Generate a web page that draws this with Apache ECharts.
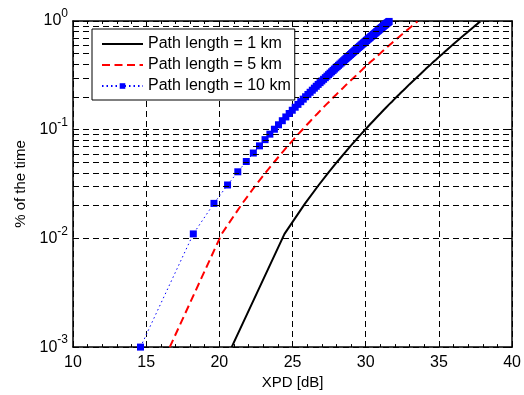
<!DOCTYPE html>
<html>
<head>
<meta charset="utf-8">
<script src="https://cdn.jsdelivr.net/npm/echarts@6/dist/echarts.min.js"></script>
<style>html,body{margin:0;padding:0;background:#fff}#c{width:524px;height:395px}</style>
</head>
<body>
<div id="c"></div>
<script>
// percentage of time (y values)
const pct = [0.001,0.011,0.021,0.031,0.041,0.051,0.061,0.071,0.081,0.091,
0.101,0.111,0.121,0.131,0.141,0.151,0.161,0.171,0.181,0.191,
0.201,0.211,0.221,0.231,0.241,0.251,0.261,0.271,0.281,0.291,
0.301,0.311,0.321,0.331,0.341,0.351,0.361,0.371,0.381,0.391,
0.401,0.411,0.421,0.431,0.441,0.451,0.461,0.471,0.481,0.491,
0.501,0.511,0.521,0.531,0.541,0.551,0.561,0.571,0.581,0.591,
0.601,0.611,0.621,0.631,0.641,0.651,0.661,0.671,0.681,0.691,
0.701,0.711,0.721,0.731,0.741,0.751,0.761,0.771,0.781,0.791,
0.801,0.811,0.821,0.831,0.841,0.851,0.861,0.871,0.881,0.891,
0.901,0.911,0.921,0.931,0.941,0.951,0.961,0.971,0.981,0.991];

// XPD [dB] for each path length
const xpd1km = [20.84,24.45,25.86,26.79,27.49,28.07,28.55,28.97,29.35,29.68,
29.99,30.27,30.53,30.77,31.00,31.21,31.41,31.60,31.79,31.96,
32.12,32.28,32.43,32.58,32.72,32.85,32.98,33.11,33.23,33.35,
33.47,33.58,33.69,33.79,33.90,34.00,34.09,34.19,34.28,34.37,
34.46,34.55,34.63,34.72,34.80,34.88,34.96,35.04,35.11,35.19,
35.26,35.33,35.40,35.47,35.54,35.61,35.67,35.73,35.80,35.86,
35.92,35.98,36.05,36.10,36.16,36.22,36.28,36.33,36.39,36.44,
36.50,36.55,36.60,36.66,36.71,36.76,36.81,36.86,36.91,36.96,
37.00,37.05,37.10,37.14,37.19,37.23,37.28,37.32,37.37,37.41,
37.45,37.50,37.54,37.58,37.62,37.66,37.70,37.75,37.79,37.83];

const xpd5km = [16.61,20.16,21.57,22.50,23.20,23.78,24.26,24.68,25.06,25.39,
25.70,25.98,26.24,26.48,26.71,26.92,27.12,27.31,27.50,27.67,
27.83,27.99,28.14,28.29,28.43,28.56,28.69,28.82,28.94,29.06,
29.18,29.29,29.40,29.50,29.61,29.71,29.80,29.90,29.99,30.08,
30.17,30.26,30.34,30.43,30.51,30.59,30.67,30.75,30.82,30.90,
30.97,31.04,31.11,31.18,31.25,31.32,31.38,31.44,31.51,31.57,
31.63,31.69,31.76,31.81,31.87,31.93,31.99,32.04,32.10,32.15,
32.21,32.26,32.31,32.37,32.42,32.47,32.52,32.57,32.62,32.67,
32.71,32.76,32.81,32.85,32.90,32.94,32.99,33.03,33.08,33.12,
33.16,33.21,33.25,33.29,33.33,33.37,33.41,33.46,33.50,33.54];

const xpd10km = [14.61,18.22,19.63,20.56,21.26,21.84,22.32,22.74,23.12,23.45,
23.76,24.04,24.30,24.54,24.77,24.98,25.18,25.37,25.56,25.73,
25.89,26.05,26.20,26.35,26.49,26.62,26.75,26.88,27.00,27.12,
27.24,27.35,27.46,27.56,27.67,27.77,27.86,27.96,28.05,28.14,
28.23,28.32,28.40,28.49,28.57,28.65,28.73,28.81,28.88,28.96,
29.03,29.10,29.17,29.24,29.31,29.38,29.44,29.50,29.57,29.63,
29.69,29.75,29.82,29.87,29.93,29.99,30.05,30.10,30.16,30.21,
30.27,30.32,30.37,30.43,30.48,30.53,30.58,30.63,30.68,30.73,
30.77,30.82,30.87,30.91,30.96,31.00,31.05,31.09,31.14,31.18,
31.22,31.27,31.31,31.35,31.39,31.43,31.47,31.52,31.56,31.60];

const seriesNames = ['Path length = 1 km','Path length = 5 km','Path length = 10 km'];
const xTicks = [10,15,20,25,30,35,40];
const yMinorGrid = [0.002,0.003,0.004,0.005,0.006,0.007,0.008,0.009,
0.02,0.03,0.04,0.05,0.06,0.07,0.08,0.09,
0.2,0.3,0.4,0.5,0.6,0.7,0.8,0.9];

const FONT = '"Liberation Sans", Arial, Helvetica, sans-serif';
const pair = xs => xs.map((x, i) => [x, pct[i]]);
const dashGrid = {color:'#000', width:1, type:[6,4]};

const chart = echarts.init(document.getElementById('c'), null, {renderer:'canvas'});
chart.setOption({
  animation:false,
  backgroundColor:'#fff',
  textStyle:{fontFamily:FONT},
  grid:{left:73, right:11, top:21, bottom:46, containLabel:false},
  legend:{
    orient:'vertical', left:92, top:29, z:20,
    backgroundColor:'#fff', borderColor:'#000', borderWidth:1,
    padding:[7,4,6,9], itemWidth:41, itemHeight:7, itemGap:5,
    textStyle:{fontSize:16, color:'#000', fontFamily:FONT, lineHeight:16},
    data:[
      {name:seriesNames[0], itemStyle:{opacity:0}},
      {name:seriesNames[1], itemStyle:{opacity:0}},
      {name:seriesNames[2]}
    ]
  },
  xAxis:[{
    type:'value', min:xTicks[0], max:xTicks[xTicks.length-1], interval:5,
    name:'XPD [dB]', nameLocation:'middle', nameGap:27,
    nameTextStyle:{fontSize:15, color:'#000', fontFamily:FONT},
    axisLine:{show:true, onZero:false, lineStyle:{color:'#000', width:1.5}},
    axisTick:{show:true, inside:true, length:5, lineStyle:{color:'#000'}},
    minorTick:{show:true, splitNumber:5, length:3, lineStyle:{color:'#000'}},
    axisLabel:{fontSize:16, color:'#000', margin:7, fontFamily:FONT},
    splitLine:{show:true, lineStyle:dashGrid}
  },{
    type:'value', position:'top', min:10, max:40, interval:5,
    axisLine:{show:true, onZero:false, lineStyle:{color:'#000', width:1.5}},
    axisTick:{show:true, inside:true, length:5, lineStyle:{color:'#000'}},
    minorTick:{show:true, splitNumber:5, length:3, lineStyle:{color:'#000'}},
    axisLabel:{show:false}, splitLine:{show:false}
  }],
  yAxis:[{
    type:'log', logBase:10, min:0.001, max:1,
    name:'% of the time', nameLocation:'middle', nameGap:31, nameRotate:90,
    nameTextStyle:{fontSize:15, color:'#000', fontFamily:FONT},
    axisLine:{show:true, onZero:false, lineStyle:{color:'#000', width:1.5}},
    axisTick:{show:true, inside:true, length:5, lineStyle:{color:'#000'}},
    axisLabel:{
      margin:5, color:'#000',
      formatter: v => '{b|10}{s|' + Math.round(Math.log10(v)) + '}',
      rich:{
        b:{fontSize:16, fontFamily:FONT, color:'#000'},
        s:{fontSize:12, fontFamily:FONT, color:'#000', padding:[0,0,14,0]}
      }
    },
    splitLine:{show:true, lineStyle:dashGrid}
  },{
    type:'log', logBase:10, min:0.001, max:1, position:'right',
    axisLine:{show:true, onZero:false, lineStyle:{color:'#000', width:1.5}},
    axisTick:{show:true, inside:true, length:5, lineStyle:{color:'#000'}},
    axisLabel:{show:false}, splitLine:{show:false}
  }],
  series:[{
    name:seriesNames[0], type:'line', data:pair(xpd1km),
    symbol:'none', lineStyle:{color:'#000', width:2, type:'solid'},
    itemStyle:{color:'#000'}, z:2,
    markLine:{
      silent:true, symbol:['none','none'], label:{show:false},
      lineStyle:{color:'#000', width:1, type:[6,4]},
      emphasis:{disabled:true},
      data: yMinorGrid.map(v => ({yAxis:v}))
    }
  },{
    name:seriesNames[1], type:'line', data:pair(xpd5km),
    symbol:'none', lineStyle:{color:'#ff0000', width:2, type:[8,4.5]},
    itemStyle:{color:'#ff0000'}, z:3
  },{
    name:seriesNames[2], type:'line', data:pair(xpd10km),
    symbol:'rect', symbolSize:7, showSymbol:true, showAllSymbol:true,
    lineStyle:{color:'#0000ff', width:1, type:[1.5,3]},
    itemStyle:{color:'#0000ff'}, z:4
  }]
});
</script>
</body>
</html>
